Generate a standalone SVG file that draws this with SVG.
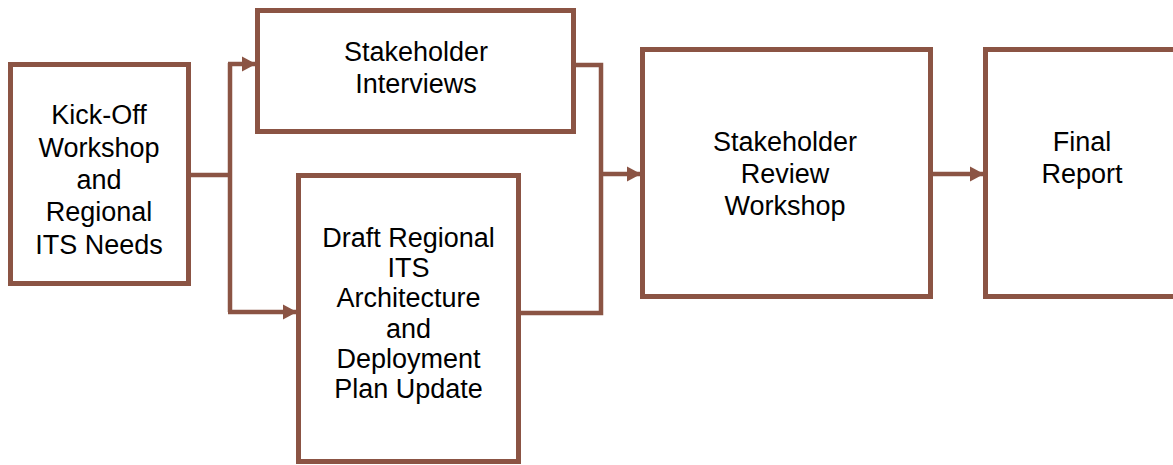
<svg xmlns="http://www.w3.org/2000/svg" width="1173" height="465" viewBox="0 0 1173 465">
  <defs>
    <style>
      .box { fill: #ffffff; stroke: #8B5444; stroke-width: 5; }
      .conn { fill: none; stroke: #8B5444; stroke-width: 4.5; stroke-linejoin: miter; }
      .lbl { font-family: "Liberation Sans", Arial, sans-serif; font-size: 27px; fill: #000000; text-anchor: middle; }
    </style>
    <marker id="arrow" markerUnits="userSpaceOnUse" markerWidth="15" markerHeight="16" refX="14" refY="8" orient="auto">
      <path d="M0,0.5 L14,8 L0,15.5 z" fill="#8B5444"/>
    </marker>
  </defs>
  <rect width="1173" height="465" fill="#ffffff"/>

  <g id="connectors">
    <path class="conn" d="M189,175 H230"/>
    <path class="conn" d="M230,63 V312"/>
    <path class="conn" d="M228,64 H256" marker-end="url(#arrow)"/>
    <path class="conn" d="M228,312 H297" marker-end="url(#arrow)"/>
    <path class="conn" d="M574,65 H601 V313 H519"/>
    <path class="conn" d="M601,174 H641" marker-end="url(#arrow)"/>
    <path class="conn" d="M931,174 H984" marker-end="url(#arrow)"/>
  </g>

  <g id="node-kickoff">
    <rect class="box" x="10.5" y="64.5" width="178" height="219"/>
    <text class="lbl" x="99" y="124">Kick-Off</text>
    <text class="lbl" x="99" y="157">Workshop</text>
    <text class="lbl" x="99" y="189">and</text>
    <text class="lbl" x="99" y="221">Regional</text>
    <text class="lbl" x="99" y="254">ITS Needs</text>
  </g>

  <g id="node-interviews">
    <rect class="box" x="257.5" y="10.5" width="316" height="121"/>
    <text class="lbl" x="416" y="61">Stakeholder</text>
    <text class="lbl" x="416" y="93">Interviews</text>
  </g>

  <g id="node-draft">
    <rect class="box" x="298.5" y="175.5" width="220" height="286"/>
    <text class="lbl" x="408.5" y="247">Draft Regional</text>
    <text class="lbl" x="408.5" y="277">ITS</text>
    <text class="lbl" x="408.5" y="307">Architecture</text>
    <text class="lbl" x="408.5" y="338">and</text>
    <text class="lbl" x="408.5" y="368">Deployment</text>
    <text class="lbl" x="408.5" y="398">Plan Update</text>
  </g>

  <g id="node-review">
    <rect class="box" x="642.5" y="49.5" width="288" height="247"/>
    <text class="lbl" x="785" y="151">Stakeholder</text>
    <text class="lbl" x="785" y="183">Review</text>
    <text class="lbl" x="785" y="215">Workshop</text>
  </g>

  <g id="node-final">
    <rect class="box" x="985.5" y="49.5" width="200" height="247"/>
    <text class="lbl" x="1082" y="151">Final</text>
    <text class="lbl" x="1082" y="183">Report</text>
  </g>
</svg>
